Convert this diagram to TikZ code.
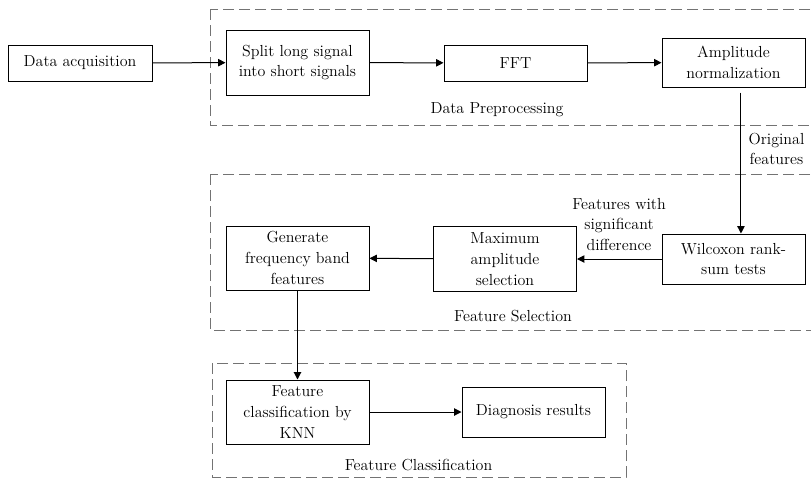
\documentclass[tikz,border=0pt]{standalone}
\usetikzlibrary{arrows.meta}
\tikzset{
    block/.style={draw=black, line width=0.75pt, fill=white, minimum width=107.25pt, inner sep=0pt, align=center, font=\fontsize{12}{15.6}\selectfont},
    group/.style={draw=black!55, line width=0.75pt, dash pattern=on 8pt off 4pt},
    flow/.style={-{Triangle[length=5.5pt,width=5.5pt]}, line width=0.75pt},
    caption/.style={align=center, inner sep=0pt, font=\fontsize{12}{15.6}\selectfont},
}

\begin{document}
\begin{tikzpicture}[x=0.75pt, y=-0.75pt]
    \newcommand\rowPre{63}
    \newcommand\rowSel{259}
    \newcommand\rowCls{412}
    \newcommand\colMid{297.5}
    \newcommand\colRight{733.5}

    \useasboundingbox (0,0) rectangle (811,480);

    % dashed groups
    \draw[group] (210, 9) rectangle (818, 125);
    \draw[group] (210, 174) rectangle (818, 330);
    \draw[group] (212, 363) rectangle (626, 477);

    \node[block, minimum width=108pt, minimum height=27pt] (acq) at (80, \rowPre){Data acquisition};
    \node[block, minimum height=48.75pt] (split) at (\colMid, 62.5){Split long signal\\into short signals};
    \node[block, minimum height=27pt] (fft) at (515.5, \rowPre){FFT};
    \node[block, minimum height=36.75pt] (ampl) at (\colRight, 62.5){Amplitude\\normalization};

    \node[block, minimum height=37.5pt] (wil) at (\colRight, \rowSel){Wilcoxon rank-\\sum tests};
    \node[block, minimum height=48.75pt] (maxsel) at (505, \rowSel){Maximum\\amplitude\\selection};
    \node[block, minimum height=48pt] (gen) at (\colMid, 258){Generate\\frequency band\\features};

    \node[block, minimum height=48pt] (knn) at (\colMid, \rowCls){Feature\\classification by\\KNN};
    \node[block, minimum height=37.5pt] (diag) at (533.5, \rowCls){Diagnosis results};

    \node[caption] (labPre) at (497, 110){Data Preprocessing};
    \node[caption] (labSel) at (513, 316){Feature Selection};
    \node[caption] (labCls) at (418.5, 465){Feature Classification};
    \node[caption] (labOrig) at (776.5, 149){Original\\features};
    \node[caption] (labSig) at (619, 224.5){Features with\\significant\\difference};

    \draw[flow] (acq) -- (split);
    \draw[flow] (split) -- (fft);
    \draw[flow] (fft) -- (ampl);
    \draw[flow, shorten <=3.75pt] ([xshift=5.6pt]ampl.south) -- ([xshift=5.6pt]wil.north);
    \draw[flow] (wil) -- (maxsel);
    \draw[flow] (maxsel) -- (gen);
    \draw[flow] (gen) -- (knn);
    \draw[flow] (knn) -- (diag);
\end{tikzpicture}
\end{document}
